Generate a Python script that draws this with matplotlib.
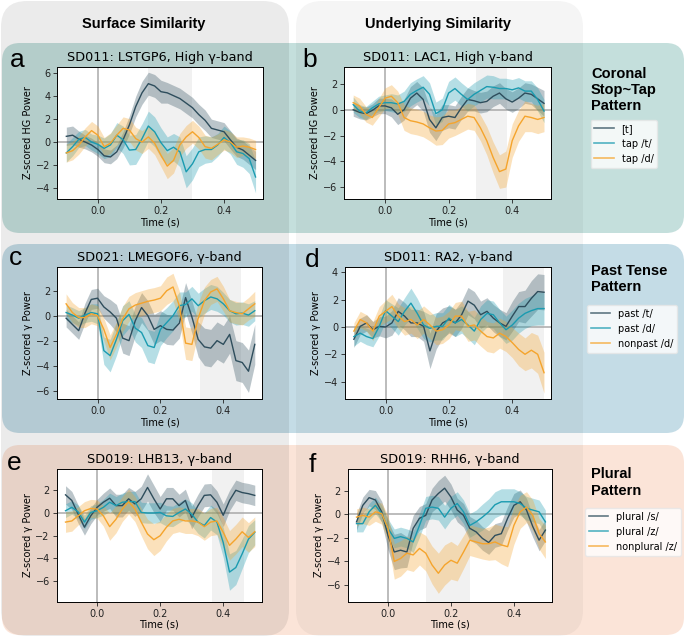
import numpy as np
import matplotlib.pyplot as plt
from matplotlib.patches import FancyBboxPatch
from matplotlib.lines import Line2D

# time axis (s)
time_s = [-0.10, -0.08, -0.06, -0.04, -0.02, 0.00, 0.02, 0.04, 0.06, 0.08, 0.10,
          0.12, 0.14, 0.16, 0.18, 0.20, 0.22, 0.24, 0.26, 0.28, 0.30, 0.32,
          0.34, 0.36, 0.38, 0.40, 0.42, 0.44, 0.46, 0.48, 0.50]

# a: SD011 LSTGP6, coronal stop~tap
a_dark = [0.5, 0.6, 0.25, 0.0, -0.26, -0.65, -1.2, -1.3, -0.85, 0.2, 1.5, 3.1, 4.3, 5.1, 4.9, 4.4,
          4.3, 4.05, 3.8, 3.4, 3.0, 2.4, 1.9, 1.2, 1.05, 0.9, 0.2, -0.45, -0.7, -1.15, -1.6]
a_cyan = [-0.95, -0.4, 0.25, 0.4, 0.0, -0.2, -0.55, -0.25, 0.6, 0.2, -0.7, -0.65, 0.3, 1.4, 0.9, -0.05,
          -0.75, -0.45, -0.85, -2.6, -1.9, -0.85, -0.65, -0.65, -0.25, 0.4, -0.05, -0.85, -1.0, -1.45, -3.05]
a_orange = [-0.95, -0.75, -0.25, 0.45, 1.0, 0.6, -0.4, -0.1, 0.6, 1.2, 1.05, 0.3, 0.0, 0.45, -0.1, -1.15,
            -2.1, -1.6, -0.25, 0.45, 0.9, 0.4, -0.4, -0.55, -0.2, 0.2, 0.0, -0.45, -0.35, -0.45, -0.65]
a_dark_err = [0.8, 0.8, 0.7, 0.6, 0.6, 0.6, 0.6, 0.6, 0.6, 0.7, 0.8, 0.9, 1.0, 1.0, 1.0, 1.0,
              0.9, 0.9, 0.9, 0.9, 0.9, 0.9, 0.9, 0.8, 0.8, 0.8, 0.8, 0.8, 0.8, 0.8, 0.8]
a_cyan_err = [0.8, 0.8, 0.7, 0.7, 0.7, 0.8, 0.9, 1.0, 1.1, 1.2, 1.3, 1.3, 1.3, 1.3, 1.3, 1.3,
              1.2, 1.2, 1.3, 1.4, 1.4, 1.3, 1.2, 1.1, 1.0, 1.0, 1.0, 1.1, 1.2, 1.3, 1.4]
a_orange_err = [0.8, 0.8, 0.8, 0.8, 0.8, 0.8, 0.8, 0.9, 0.9, 1.0, 1.0, 1.0, 1.0, 1.0, 1.0, 1.0,
                1.1, 1.1, 1.0, 1.0, 1.0, 1.0, 1.0, 1.0, 0.9, 0.9, 0.9, 0.9, 0.8, 0.8, 0.8]

# b: SD011 LAC1
b_dark = [0.0, -0.2, -0.3, -0.05, 0.3, 0.3, 0.15, -0.35, 0.0, 0.9, 1.3, 0.8, -0.75, -1.4, -0.6, -0.5,
          -0.6, 0.15, 0.8, 0.7, 0.55, 0.65, 1.05, 1.3, 0.85, 0.6, 0.9, 1.3, 1.2, 0.85, 0.5]
b_cyan = [0.4, -0.1, -0.25, 0.15, 0.45, 0.55, 0.55, 0.45, 0.65, 1.2, 1.5, 1.75, 1.2, -0.3, 0.0, 1.3,
          1.65, 1.2, 0.8, 1.2, 1.5, 1.8, 1.75, 1.65, 1.65, 1.55, 1.7, 1.45, 1.45, 0.8, -0.1]
b_orange = [0.55, 0.3, -0.35, -0.6, 0.15, 0.9, 1.05, 0.55, -0.6, -0.85, -0.95, -1.1, -1.4, -1.65, -1.6, -1.1,
            -1.0, -0.75, -0.5, -0.6, -1.4, -2.4, -3.7, -4.8, -4.6, -2.4, -1.25, -0.5, -0.6, -0.75, -0.6]
b_dark_err = [0.5, 0.5, 0.5, 0.5, 0.6, 0.6, 0.7, 0.8, 0.8, 0.9, 0.9, 0.9, 1.0, 1.0, 1.0, 0.9,
              0.9, 0.9, 0.9, 0.8, 0.8, 0.8, 0.8, 0.8, 0.8, 0.8, 0.8, 0.8, 0.8, 0.9, 1.0]
b_cyan_err = [0.6, 0.5, 0.5, 0.5, 0.6, 0.6, 0.7, 0.7, 0.8, 0.9, 0.9, 0.9, 0.9, 0.9, 0.9, 0.9,
              0.9, 0.9, 0.9, 0.9, 0.9, 0.9, 0.9, 0.8, 0.8, 0.8, 0.8, 0.8, 0.8, 0.9, 0.9]
b_orange_err = [0.6, 0.6, 0.6, 0.6, 0.7, 0.8, 0.9, 0.9, 1.0, 1.0, 1.0, 1.0, 1.0, 1.1, 1.1, 1.1,
                1.0, 1.0, 1.0, 1.0, 1.0, 1.1, 1.2, 1.3, 1.4, 1.3, 1.2, 1.2, 1.1, 1.1, 1.1]

# c: SD021 LMEGOF6, past tense
c_dark = [-0.2, -0.7, -1.2, 0.2, 1.3, 1.4, 0.7, 0.3, -0.2, -1.8, -2.0, -0.4, 0.65, 0.0, -1.1, -0.8,
          -1.1, -1.15, -0.6, 1.45, -0.1, -1.9, -2.5, -2.6, -2.0, -2.3, -1.5, -3.6, -3.75, -4.45, -2.3]
c_cyan = [0.25, 0.05, -0.2, 0.05, 0.25, 0.15, -2.8, -3.2, -1.9, -0.4, 0.1, -1.0, -1.35, -2.4, -2.55, -1.1,
          -0.55, 0.0, 0.8, 0.9, 1.35, 0.8, 1.2, 1.5, 1.35, 0.95, 0.4, 0.15, 0.2, 0.05, 0.4]
c_orange = [0.95, 0.25, -0.15, -0.15, 0.15, 0.0, -1.1, -2.55, -1.5, -0.25, 0.55, 0.85, 1.0, 1.15, 1.25, 1.4,
            2.0, 2.3, 0.8, -2.2, -2.3, -0.2, 1.2, 1.9, 2.15, 1.35, 0.4, 0.25, 0.15, 0.55, 0.95]
c_dark_err = [0.7, 0.7, 0.7, 0.8, 0.8, 0.8, 0.9, 1.0, 1.1, 1.2, 1.2, 1.2, 1.2, 1.2, 1.2, 1.2,
              1.2, 1.2, 1.2, 1.2, 1.3, 1.4, 1.5, 1.5, 1.5, 1.5, 1.5, 1.6, 1.6, 1.7, 1.6]
c_cyan_err = [0.6, 0.6, 0.6, 0.6, 0.7, 0.8, 1.1, 1.3, 1.3, 1.2, 1.1, 1.1, 1.2, 1.3, 1.3, 1.3,
              1.2, 1.2, 1.1, 1.0, 1.0, 1.0, 1.0, 1.0, 1.0, 0.9, 0.9, 0.9, 0.9, 0.9, 0.8]
c_orange_err = [0.8, 0.8, 0.8, 0.8, 0.8, 0.8, 0.9, 1.0, 1.0, 1.0, 1.0, 1.0, 1.0, 1.0, 1.0, 1.0,
                1.1, 1.1, 1.2, 1.3, 1.3, 1.2, 1.1, 1.0, 1.0, 1.0, 0.9, 0.9, 0.9, 0.9, 1.0]

# d: SD011 RA2
d_dark = [-0.9, 0.05, 0.3, -0.2, 0.05, 0.0, 0.3, 1.15, 0.8, 0.3, 0.3, 0.05, -1.75, -0.3, 0.3, 0.55,
          0.3, 0.9, 1.9, 1.6, 0.9, 1.15, 0.65, 0.3, 0.05, 0.8, 1.5, 1.5, 2.1, 2.6, 2.55]
d_cyan = [-0.7, -0.45, -0.7, -0.85, 0.05, 1.2, 0.8, 0.4, 1.15, 1.75, 1.0, 0.15, -0.1, 0.05, 0.05, 0.65,
          0.3, 0.55, 0.15, -0.3, 0.55, 1.0, 0.9, 0.3, -0.2, 0.15, 0.65, 1.0, 1.2, 1.35, 1.35]
d_orange = [-0.3, 0.55, 0.3, -0.3, 0.8, 1.15, 1.5, 0.8, 0.4, 0.55, 0.15, 0.55, 0.15, -0.3, -0.2, 0.15,
            0.8, 0.8, 0.05, 0.15, -0.3, -0.7, -0.8, -0.45, -0.7, -1.15, -1.65, -2.0, -1.7, -2.0, -3.35]
d_dark_err = [0.6, 0.6, 0.6, 0.6, 0.7, 0.8, 0.9, 1.0, 1.0, 1.0, 1.0, 1.1, 1.3, 1.3, 1.1, 1.0,
              1.0, 1.0, 1.0, 1.0, 1.0, 1.0, 1.0, 1.0, 1.0, 1.1, 1.1, 1.2, 1.3, 1.3, 1.3]
d_cyan_err = [0.7, 0.6, 0.6, 0.6, 0.7, 0.8, 0.9, 1.0, 1.0, 1.1, 1.1, 1.0, 1.0, 1.0, 1.0, 1.0,
              1.0, 1.0, 1.0, 1.0, 1.0, 1.0, 1.0, 1.0, 1.0, 1.1, 1.1, 1.1, 1.1, 1.2, 1.2]
d_orange_err = [0.6, 0.6, 0.6, 0.7, 0.7, 0.8, 0.9, 0.9, 1.0, 1.0, 1.0, 1.0, 1.0, 1.0, 1.0, 1.0,
                1.0, 1.1, 1.1, 1.1, 1.1, 1.1, 1.1, 1.1, 1.1, 1.1, 1.2, 1.2, 1.3, 1.4, 1.5]

# e: SD019 LHB13, plural
e_dark = [1.6, 1.1, -0.1, -1.25, -0.25, 0.5, 0.95, 1.3, 0.65, 0.65, 1.25, 0.8, 1.25, 2.25, 1.25, 0.35,
          1.25, 1.25, 0.65, 1.1, -0.4, 0.65, 1.55, 1.6, 0.95, -0.2, 1.1, 2.0, 1.8, 1.7, 1.55]
e_cyan = [0.2, 0.5, 0.1, -0.8, 0.05, 0.2, 0.5, 0.95, 0.65, 0.95, 1.0, 1.0, 0.05, 0.0, 0.0, 0.05,
          -0.25, -0.3, 0.05, 0.35, -0.1, -0.8, -1.1, -0.4, -0.8, -2.6, -5.2, -4.8, -3.6, -2.3, -1.7]
e_orange = [-0.8, -0.7, -0.25, 0.2, 0.4, 0.35, -0.25, -1.2, -0.55, 0.35, 1.0, 0.35, -0.8, -1.85, -2.35, -2.0,
            -1.25, -0.7, -0.55, -0.7, -0.7, -0.8, -1.2, -0.8, -0.7, -1.7, -2.85, -2.3, -1.65, -2.15, -1.65]
e_dark_err = [0.8, 0.8, 0.8, 0.7, 0.7, 0.7, 0.8, 0.9, 1.0, 1.0, 1.0, 1.1, 1.1, 1.2, 1.2, 1.1,
              1.0, 1.0, 1.0, 1.0, 1.0, 1.0, 1.0, 1.0, 1.0, 1.0, 0.9, 0.9, 0.9, 0.9, 0.9]
e_cyan_err = [0.6, 0.6, 0.6, 0.6, 0.6, 0.6, 0.7, 0.8, 0.8, 0.8, 0.9, 0.9, 0.9, 0.9, 0.9, 0.9,
              0.9, 0.9, 0.9, 0.9, 1.0, 1.0, 1.1, 1.1, 1.1, 1.3, 1.6, 1.5, 1.3, 1.2, 1.1]
e_orange_err = [0.9, 0.9, 0.8, 0.8, 0.8, 0.8, 0.9, 1.2, 1.2, 1.1, 1.1, 1.1, 1.2, 1.3, 1.4, 1.3,
                1.2, 1.1, 1.1, 1.1, 1.1, 1.2, 1.2, 1.2, 1.2, 1.3, 1.3, 1.3, 1.3, 1.3, 1.3]

# f: SD019 RHH6
f_dark = [-0.65, 0.75, 1.4, 1.2, 0.2, -1.8, -3.2, -3.05, -3.2, -1.2, -0.35, -0.1, 1.2, 1.75, 2.2, 1.45,
          0.35, -0.1, -1.2, -1.5, -2.05, -2.4, -1.8, -1.65, -0.35, 0.75, 1.05, 0.35, -1.05, -2.2, -1.35]
f_cyan = [-0.8, -0.8, 0.2, 0.75, 0.05, -1.2, -2.05, -1.9, -2.05, -2.35, -0.95, 0.5, 0.6, 0.5, -0.25, 0.5,
          0.9, 0.2, -0.95, -0.65, -0.25, 0.2, 0.8, 1.05, 1.05, 1.05, 0.9, 0.5, 0.35, 0.2, -0.65]
f_orange = [-0.25, -0.1, -0.25, 0.2, 0.05, -1.2, -4.0, -3.75, -3.3, -3.45, -2.9, -3.3, -4.3, -5.0, -4.3, -3.9,
            -4.15, -3.2, -2.2, -2.35, -2.5, -2.5, -2.35, -2.6, -2.75, -0.95, 0.2, 0.6, -0.1, -1.65, -2.35]
f_dark_err = [0.7, 0.7, 0.7, 0.8, 0.9, 1.2, 1.5, 1.5, 1.3, 1.1, 1.0, 1.0, 1.0, 1.1, 1.1, 1.1,
              1.0, 1.0, 1.0, 1.0, 1.0, 1.0, 1.0, 1.0, 1.0, 1.0, 1.0, 1.0, 0.9, 0.9, 0.9]
f_cyan_err = [0.7, 0.7, 0.7, 0.7, 0.7, 0.8, 0.8, 0.8, 0.8, 0.9, 1.0, 1.0, 1.0, 1.0, 1.0, 1.0,
              1.0, 1.0, 1.0, 1.0, 1.1, 1.1, 1.1, 1.1, 1.1, 1.1, 1.0, 1.0, 1.0, 1.0, 1.0]
f_orange_err = [0.7, 0.7, 0.7, 0.8, 0.9, 1.1, 1.5, 1.5, 1.4, 1.4, 1.4, 1.5, 1.6, 1.7, 1.7, 1.6,
                1.5, 1.4, 1.3, 1.3, 1.3, 1.4, 1.5, 1.6, 1.7, 1.6, 1.4, 1.3, 1.3, 1.3, 1.4]

# significance windows (s)
windows = {"a": (0.16, 0.30), "b": (0.285, 0.385), "c": (0.325, 0.455),
           "d": (0.37, 0.50), "e": (0.365, 0.465), "f": (0.12, 0.26)}

titles = {"a": "SD011: LSTGP6, High γ-band", "b": "SD011: LAC1, High γ-band",
          "c": "SD021: LMEGOF6, γ-band", "d": "SD011: RA2, γ-band",
          "e": "SD019: LHB13, γ-band", "f": "SD019: RHH6, γ-band"}

row_labels = ["Coronal\nStop~Tap\nPattern", "Past Tense\nPattern", "Plural\nPattern"]
legend_labels = [["[t]", "tap /t/", "tap /d/"],
                 ["past /t/", "past /d/", "nonpast /d/"],
                 ["plural /s/", "plural /z/", "nonplural /z/"]]

# ---------------------------------------------------------------
W, H = 685, 637
col_dark, col_cyan, col_orange = "#2e4d5c", "#1a9bb0", "#f5a42c"
colors = [col_dark, col_cyan, col_orange]

fig = plt.figure(figsize=(W / 100, H / 100), dpi=100)

# background boxes in pixel coords
bg = fig.add_axes([0, 0, 1, 1], zorder=-10)
bg.set_xlim(0, W)
bg.set_ylim(H, 0)
bg.axis("off")

row_boxes = [(2, 43, 682, 190, "#c4dfdc"), (2, 244, 682, 189, "#c4dce6"), (2, 445, 682, 190, "#fbe4d8")]
for x, y, w, h, c in row_boxes:
    bg.add_patch(FancyBboxPatch((x, y), w, h, boxstyle="round,pad=0,rounding_size=18",
                                fc=c, ec="none"))
# similarity columns darken whatever is under them
bg.add_patch(FancyBboxPatch((1, 1), 288, 635, boxstyle="round,pad=0,rounding_size=26",
                            fc="black", alpha=0.08, ec="none"))
bg.add_patch(FancyBboxPatch((296, 1), 287, 635, boxstyle="round,pad=0,rounding_size=26",
                            fc="black", alpha=0.04, ec="none"))

bold = dict(family=["Liberation Sans", "DejaVu Sans"], fontweight="bold")
bg.text(144, 24, "Surface Similarity", ha="center", va="center", fontsize=10.5, **bold)
bg.text(438, 24, "Underlying Similarity", ha="center", va="center", fontsize=10.5, **bold)
for lab, yc in zip(row_labels, [90, 279, 482.5]):
    bg.text(591, yc, lab, ha="left", va="center", fontsize=10.5, linespacing=1.2, **bold)

# axes rectangles (left, top, right, bottom) in pixels
rects = {"a": (57.5, 66.5, 262.5, 199.3), "b": (344.3, 66.5, 551, 199.3),
         "c": (57.3, 267, 261.7, 399.3), "d": (345, 267, 551, 399.3),
         "e": (56.7, 468.7, 261.7, 601.6), "f": (347.7, 468.7, 552.3, 601.6)}
ylims = {"a": (-5.0, 6.6), "b": (-6.95, 3.36), "c": (-6.7, 3.9),
         "d": (-5.3, 4.4), "e": (-7.8, 3.9), "f": (-7.4, 3.85)}
letter_pos = {"a": (10, 67), "b": (302, 67), "c": (9, 265), "d": (305, 267),
              "e": (7, 470), "f": (309, 472)}
series = {"a": (a_dark, a_cyan, a_orange, a_dark_err, a_cyan_err, a_orange_err),
          "b": (b_dark, b_cyan, b_orange, b_dark_err, b_cyan_err, b_orange_err),
          "c": (c_dark, c_cyan, c_orange, c_dark_err, c_cyan_err, c_orange_err),
          "d": (d_dark, d_cyan, d_orange, d_dark_err, d_cyan_err, d_orange_err),
          "e": (e_dark, e_cyan, e_orange, e_dark_err, e_cyan_err, e_orange_err),
          "f": (f_dark, f_cyan, f_orange, f_dark_err, f_cyan_err, f_orange_err)}

t = np.array(time_s)
for key in "abcdef":
    l, tp, r, b = rects[key]
    ax = fig.add_axes([l / W, 1 - b / H, (r - l) / W, (b - tp) / H])
    ax.axvspan(*windows[key], color="#e6e6e6", alpha=0.55, lw=0, zorder=0)
    ax.axhline(0, color="#a0a0a0", lw=1.4, alpha=0.7, zorder=1)
    ax.axvline(0, color="#a0a0a0", lw=1.4, alpha=0.7, zorder=1)
    vals = series[key]
    for i in range(3):
        m = np.array(vals[i])
        e = np.array(vals[i + 3])
        ax.fill_between(t, m - e, m + e, color=colors[i], alpha=0.32, lw=0, zorder=2)
        ax.plot(t, m, color=colors[i], lw=1.0, zorder=3)
    ax.set_xlim(-0.128, 0.522)
    ax.set_ylim(*ylims[key])
    ax.set_xticks([0.0, 0.2, 0.4])
    ax.yaxis.set_major_locator(plt.MultipleLocator(2))
    ax.tick_params(labelsize=7, length=3, width=0.6, pad=2, colors="#222222")
    for sp in ax.spines.values():
        sp.set_linewidth(0.7)
    ax.set_xlabel("Time (s)", fontsize=7, labelpad=1)
    ax.set_ylabel("Z-scored HG Power" if key in "ab" else "Z-scored γ Power", fontsize=7, labelpad=2)
    ax.set_title(titles[key], fontsize=9.2, pad=4)
    lx, ly = letter_pos[key]
    bg.text(lx, ly, key, fontsize=19, family=["Liberation Sans", "DejaVu Sans"],
            ha="left", va="baseline")

# legends on the right
legend_tops = [(590.5, 120), (587, 305), (585, 508)]
for labels, (lx, ly) in zip(legend_labels, legend_tops):
    handles = [Line2D([], [], color=c, lw=1.2, alpha=0.75) for c in colors]
    fig.legend(handles, labels, loc="upper left", bbox_to_anchor=(lx / W, 1 - ly / H),
               fontsize=7, frameon=True, framealpha=0.8, edgecolor="#e6e6e6",
               fancybox=True, borderpad=0.4, labelspacing=0.5, borderaxespad=0)

fig.savefig("out.png", dpi=100)
